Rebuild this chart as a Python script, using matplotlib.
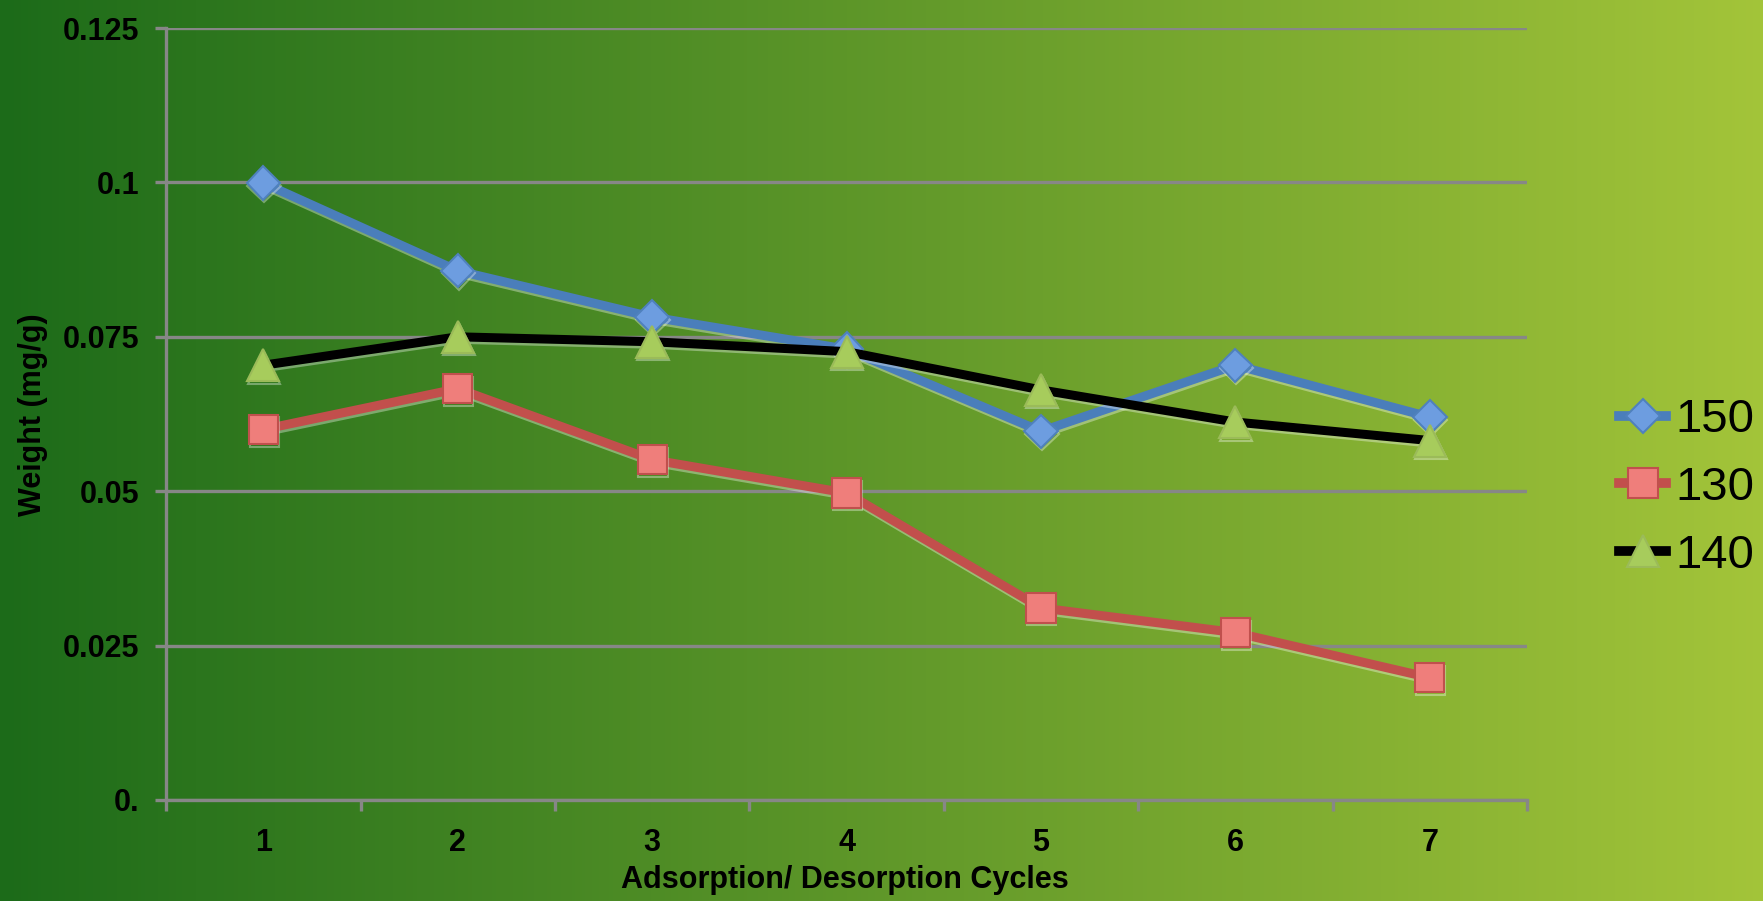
import numpy as np
import matplotlib.pyplot as plt
import matplotlib.patheffects as pe

# Weight retained over repeated adsorption/desorption cycles
cycles = [1, 2, 3, 4, 5, 6, 7]
w150 = [0.0999, 0.0857, 0.0782, 0.0730, 0.0597, 0.0704, 0.0620]
w130 = [0.0600, 0.0666, 0.0551, 0.0497, 0.0311, 0.0271, 0.0198]
w140 = [0.0704, 0.0750, 0.0742, 0.0726, 0.0664, 0.0612, 0.0582]
yticks = [0.0, 0.025, 0.05, 0.075, 0.1, 0.125]
ytick_labels = ["0.", "0.025", "0.05", "0.075", "0.1", "0.125"]

plt.rcParams['font.family'] = ['Liberation Sans', 'DejaVu Sans']

fig = plt.figure(figsize=(17.63, 9.01), dpi=100)

# green horizontal gradient behind everything
bg = fig.add_axes([0, 0, 1, 1], zorder=-10)
left_col = np.array([0.110, 0.420, 0.100])
right_col = np.array([0.640, 0.770, 0.225])
t = np.linspace(0, 1, 512)[None, :, None]
grad = left_col + (right_col - left_col) * t
bg.imshow(grad, aspect='auto', extent=[0, 1, 0, 1])
bg.set_axis_off()

ax = fig.add_axes([0.0942, 0.1121, 0.772, 0.8568])
ax.set_facecolor('none')

grey = '#878787'
shadow = [pe.SimpleLineShadow(offset=(0.6, -1.8), shadow_color='white', alpha=0.35),
          pe.Normal()]

ax.plot(cycles, w150, color='#4a7ebb', lw=6.5, marker='D', ms=17,
        mfc='#6d9de0', mec='#4f81bd', mew=1.5, label='150', zorder=5,
        path_effects=shadow)
ax.plot(cycles, w130, color='#c24f4c', lw=6.5, marker='s', ms=21,
        mfc='#ef7e7b', mec='#c0504d', mew=1.5, label='130', zorder=5,
        path_effects=shadow)
ax.plot(cycles, w140, color='black', lw=6.5, marker='^', ms=23,
        mfc='#a7cc5c', mec='#9bbb59', mew=1.5, label='140', zorder=5,
        path_effects=shadow)

ax.set_xlim(0.5, 7.5)
ax.set_ylim(0, 0.125)

ax.set_yticks(yticks)
ax.set_yticklabels(ytick_labels)
ax.set_xticks(cycles)
ax.set_xticks(np.arange(0.5, 8, 1), minor=True)

ax.yaxis.grid(True, color=grey, lw=2.4)
ax.set_axisbelow(True)

for side in ['top', 'right']:
    ax.spines[side].set_visible(False)
for side in ['left', 'bottom']:
    ax.spines[side].set_color(grey)
    ax.spines[side].set_linewidth(2.4)

ax.tick_params(axis='y', length=8, width=2.4, color=grey, pad=11,
               labelsize=22, labelcolor='black')
ax.tick_params(axis='x', which='major', length=0, pad=20,
               labelsize=22, labelcolor='black')
ax.tick_params(axis='x', which='minor', length=8, width=2.4, color=grey)
for lbl in ax.get_xticklabels() + ax.get_yticklabels():
    lbl.set_fontweight('bold')

fig.text(0.479, 0.023, 'Adsorption/ Desorption Cycles', ha='center',
         va='center', fontsize=22, fontweight='bold')
fig.text(0.0187, 0.54, 'Weight (mg/g)', ha='center', va='center',
         rotation=90, fontsize=22, fontweight='bold')

handles, labels = ax.get_legend_handles_labels()
leg = fig.legend(handles, labels, loc='center left',
                 bbox_to_anchor=(1619 / 1763, 1 - 488 / 901),
                 frameon=False, fontsize=34, handlelength=1.0,
                 handletextpad=0.2, labelspacing=0.5, borderpad=0,
                 borderaxespad=0)
for line in leg.get_lines():
    line.set_linewidth(7)
    line.set_path_effects([])

fig.savefig('out.png', dpi=100)
